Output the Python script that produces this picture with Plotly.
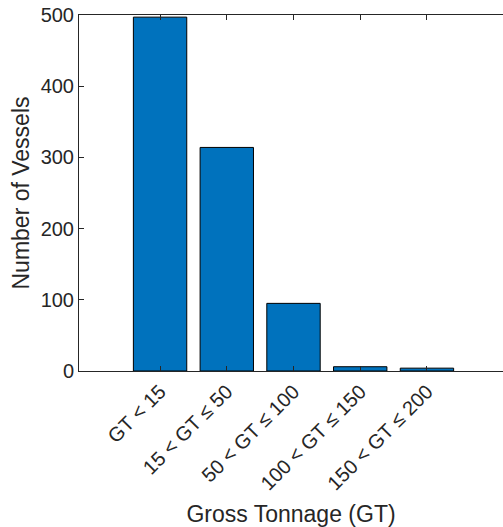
import plotly.graph_objects as go

categories = ["GT < 15", "15 < GT ≤ 50", "50 < GT ≤ 100", "100 < GT ≤ 150", "150 < GT ≤ 200"]
vessels = [497, 314, 95, 6, 4]
y_ticks = [0, 100, 200, 300, 400, 500]

fig = go.Figure(go.Bar(
    x=categories, y=vessels, width=0.8,
    marker=dict(color="#0072BD", line=dict(color="#000000", width=1)),
))

axis_color = "#262626"
fig.update_layout(
    width=503, height=527,
    margin=dict(l=79, r=0, t=15, b=156),
    plot_bgcolor="white", paper_bgcolor="white",
    font=dict(family="Liberation Sans, Arial, sans-serif", size=20, color=axis_color),
    showlegend=False,
    xaxis=dict(
        type="category",
        range=[-1.215, 5.14],
        showline=True, linecolor=axis_color, linewidth=1,
        mirror="ticks",
        ticks="inside", ticklen=5, tickcolor=axis_color,
        tickangle=-45,
        tickfont=dict(size=20),
        title=dict(text="Gross Tonnage (GT)", font=dict(size=23), standoff=13),
        showgrid=False, zeroline=False,
    ),
    yaxis=dict(
        range=[0, 500],
        tickvals=y_ticks,
        showline=True, linecolor=axis_color, linewidth=1,
        mirror=False,
        ticks="inside", ticklen=5, tickcolor=axis_color,
        tickfont=dict(size=20),
        title=dict(text="Number of Vessels", font=dict(size=23), standoff=4),
        showgrid=False, zeroline=False,
    ),
)

fig.write_html("out.html")
